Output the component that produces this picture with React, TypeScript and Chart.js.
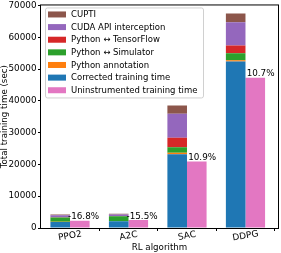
import React, { useEffect, useRef } from 'react';
import { Chart, registerables } from 'chart.js';

Chart.register(...registerables);

const FONT = 'DejaVu Sans';

const categories = ['PPO2', 'A2C', 'SAC', 'DDPG'];
const correctedTime = [1900, 2100, 23200, 52400];
const pythonAnnotation = [30, 30, 500, 400];
const pythonSimulator = [1400, 1600, 1700, 2200];
const pythonTensorFlow = [60, 80, 3000, 2400];
const cudaApi = [600, 450, 7500, 7300];
const cupti = [250, 200, 2600, 2800];
const uninstrumentedTime = [2300, 2500, 20900, 47300];
const percentLabels = ['-16.8%', '-15.5%', '10.9%', '10.7%'];

const seriesNames = [
  'Corrected training time',
  'Python annotation',
  'Python \u2194 Simulator',
  'Python \u2194 TensorFlow',
  'CUDA API interception',
  'CUPTI',
  'Uninstrumented training time',
];
const seriesColors = ['#1f77b4', '#ff7f0e', '#2ca02c', '#d62728', '#9467bd', '#8c564b', '#e377c2'];
const legendOrder = [5, 4, 3, 2, 1, 0, 6];

const overlayPlugin = {
  id: 'overlay',
  afterDatasetsDraw(chart: any) {
    const { ctx, chartArea: a, scales } = chart;
    const xs = scales.x;
    ctx.save();
    // frame
    ctx.strokeStyle = '#000';
    ctx.lineWidth = 1;
    ctx.strokeRect(a.left - 0.5, a.top - 0.5, a.right - a.left + 1, a.bottom - a.top + 1);
    // percent labels
    const meta = chart.getDatasetMeta(6);
    ctx.fillStyle = '#000';
    ctx.font = `8.8px "${FONT}"`;
    ctx.textAlign = 'right';
    ctx.textBaseline = 'alphabetic';
    meta.data.forEach((el: any, i: number) => {
      const right = el.x + el.width / 2;
      ctx.fillText(percentLabels[i], right + 9.5, el.y - 1.5);
    });
    // x category labels (rotated)
    ctx.font = `9px "${FONT}"`;
    ctx.textAlign = 'center';
    ctx.textBaseline = 'middle';
    categories.forEach((c, i) => {
      const px = xs.getPixelForValue(i);
      ctx.save();
      ctx.translate(px, a.bottom + 8);
      ctx.rotate((-10 * Math.PI) / 180);
      ctx.fillText(c, 0, 0);
      ctx.restore();
    });
    // legend
    const lx = a.left + 4;
    const ly = a.top + 2;
    const lw = 158;
    const lh = 90;
    ctx.beginPath();
    (ctx as any).roundRect(lx + 0.5, ly + 0.5, lw, lh, 2);
    ctx.fillStyle = 'rgba(255,255,255,0.8)';
    ctx.fill();
    ctx.strokeStyle = '#d0d0d0';
    ctx.lineWidth = 1;
    ctx.stroke();
    ctx.font = `8.5px "${FONT}"`;
    ctx.textAlign = 'left';
    ctx.textBaseline = 'middle';
    legendOrder.forEach((di, k) => {
      const ds = chart.data.datasets[di];
      const cy = ly + 7 + k * 12.63;
      ctx.fillStyle = ds.backgroundColor;
      ctx.fillRect(lx + 3, cy - 3, 18, 6);
      ctx.fillStyle = '#000';
      ctx.fillText(ds.label, lx + 26, cy + 0.5);
    });
    ctx.restore();
  },
};

export default function App() {
  const ref = useRef<HTMLCanvasElement>(null);
  useEffect(() => {
    if (!ref.current) return;
    const stackedSeries = [correctedTime, pythonAnnotation, pythonSimulator, pythonTensorFlow, cudaApi, cupti];
    const datasets: any[] = stackedSeries.map((vals, si) => ({
      label: seriesNames[si],
      data: vals.map((v, i) => ({ x: i, y: v })),
      backgroundColor: seriesColors[si],
      stack: 'instrumented',
      borderWidth: 0,
    }));
    datasets.push({
      label: seriesNames[6],
      data: uninstrumentedTime.map((v, i) => ({ x: i, y: v })),
      backgroundColor: seriesColors[6],
      stack: 'uninstrumented',
      borderWidth: 0,
    });
    const chart = new Chart(ref.current, {
      type: 'bar',
      data: { datasets },
      options: {
        animation: false,
        responsive: true,
        maintainAspectRatio: false,
        layout: { padding: { top: 0, right: 3, left: 0, bottom: 0 } },
        datasets: { bar: { categoryPercentage: 0.67, barPercentage: 1.0 } } as any,
        plugins: { legend: { display: false }, tooltip: { enabled: false } },
        scales: {
          x: {
            type: 'linear',
            min: -0.496,
            max: 3.556,
            stacked: true,
            offset: false,
            ticks: { display: false, stepSize: 1 },
            afterBuildTicks: (s: any) => {
              s.ticks = categories.map((_, i) => ({ value: i }));
            },
            grid: { drawOnChartArea: false, tickLength: 3, color: '#000' },
            border: { display: false },
            title: {
              display: true,
              text: 'RL algorithm',
              color: '#000',
              font: { family: FONT, size: 8.7 },
              padding: { top: 0, bottom: 0 },
            },
            afterFit: (s: any) => {
              s.height = 25;
            },
          },
          y: {
            min: 0,
            max: 70000,
            stacked: true,
            ticks: {
              stepSize: 10000,
              color: '#000',
              font: { family: FONT, size: 8.8, lineHeight: 0.9 },
              padding: 1.5,
              callback: (v: any) => String(v),
            },
            grid: { drawOnChartArea: false, tickLength: 3, color: '#000' },
            border: { display: false },
            title: {
              display: true,
              text: 'Total training time (sec)',
              color: '#000',
              font: { family: FONT, size: 8.7 },
              padding: { top: 0, bottom: 0 },
            },
            afterFit: (s: any) => {
              s.width = 41;
            },
          },
        },
      } as any,
      plugins: [overlayPlugin],
    });
    return () => chart.destroy();
  }, []);
  return (
    <div style={{ position: 'absolute', left: 0, top: 0, width: 281, height: 253 }}>
      <canvas ref={ref} />
    </div>
  );
}
